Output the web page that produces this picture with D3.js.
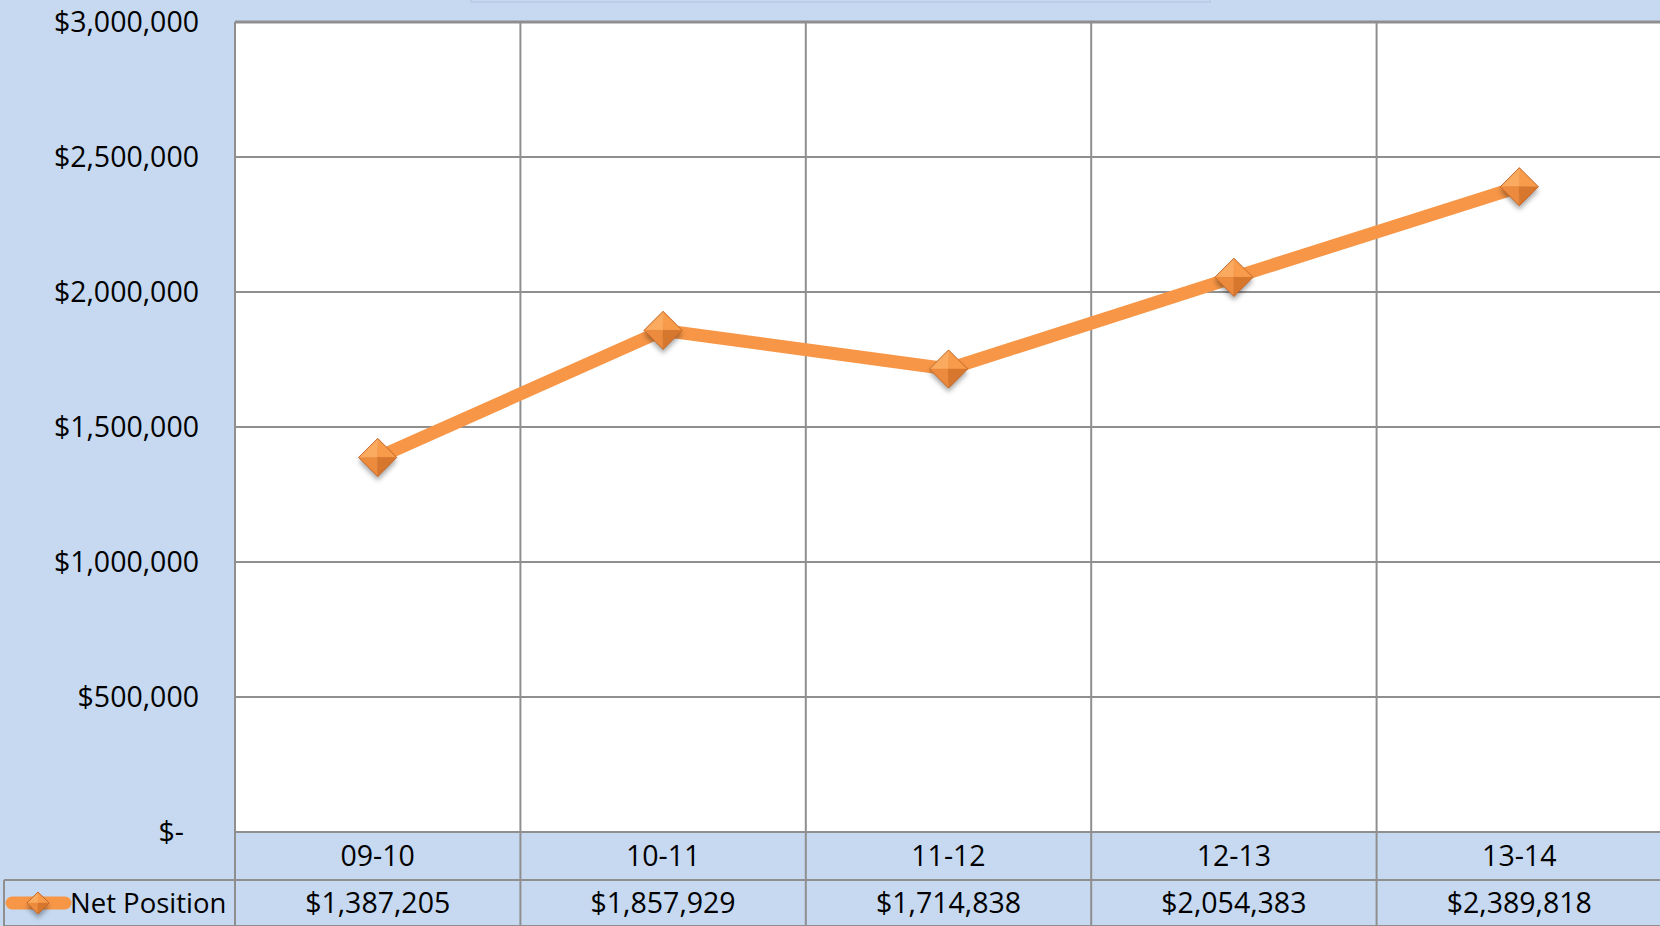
<!DOCTYPE html>
<html lang="en">
<head>
    <meta charset="UTF-8">
    <script src="https://d3js.org/d3.v7.min.js"></script>
    <style>
        body { margin: 0; background: #c6d9f0; overflow: hidden; }
        text { font-family: "Open Sans", "Noto Sans", sans-serif; fill: #000; }
    </style>
</head>
<body>
<div id="chart"></div>
<script>
    var years = ["09-10", "10-11", "11-12", "12-13", "13-14"];
    var netPosition = [1387205, 1857929, 1714838, 2054383, 2389818];
    var yTicks = [0, 500000, 1000000, 1500000, 2000000, 2500000, 3000000];
    var seriesName = "Net Position";

    var width = 1660, height = 926;
    var plotLeft = 235, plotTop = 22, plotBottom = 832;
    var bandW = 285.4;
    var rowMid = 880, tableBottom = 926;
    var fontSize = "28.5px";

    var svg = d3.select("#chart").append("svg")
        .attr("width", width)
        .attr("height", height);

    var defs = svg.append("defs");
    var f = defs.append("filter").attr("id", "shadow")
        .attr("x", "-50%").attr("y", "-50%").attr("width", "200%").attr("height", "200%");
    f.append("feGaussianBlur").attr("stdDeviation", 2.5);

    svg.append("rect").attr("width", width).attr("height", height).attr("fill", "#c6d9f0");

    // faint title box remnant at the top
    svg.append("rect").attr("x", 471).attr("y", -2).attr("width", 739).attr("height", 4)
        .attr("fill", "none").attr("stroke", "#b7cbe6").attr("stroke-width", 1.5);

    var x = d3.scaleBand().domain(years).range([plotLeft, plotLeft + bandW * years.length]);
    var y = d3.scaleLinear().domain([0, 3000000]).range([plotBottom, plotTop]);

    // plot area
    svg.append("rect")
        .attr("x", plotLeft).attr("y", plotTop)
        .attr("width", x.range()[1] - plotLeft).attr("height", plotBottom - plotTop)
        .attr("fill", "#fff");

    var grid = svg.append("g").attr("stroke", "#8f8f8f").attr("stroke-width", 2);
    grid.selectAll("line.h").data(yTicks).enter().append("line")
        .attr("x1", plotLeft).attr("x2", x.range()[1])
        .attr("y1", function (d) { return y(d); })
        .attr("y2", function (d) { return y(d); });

    // vertical lines through plot, category row and table row
    var edges = years.map(function (d) { return x(d); }).concat([x.range()[1]]);
    grid.selectAll("line.v").data(edges).enter().append("line")
        .attr("x1", function (d) { return d; }).attr("x2", function (d) { return d; })
        .attr("y1", plotTop).attr("y2", tableBottom);

    grid.append("line").attr("x1", 4).attr("x2", width).attr("y1", rowMid).attr("y2", rowMid);
    grid.append("line").attr("x1", 4).attr("x2", 4).attr("y1", rowMid).attr("y2", tableBottom);
    grid.append("line").attr("x1", 4).attr("x2", width).attr("y1", tableBottom).attr("y2", tableBottom);
    grid.append("line").attr("x1", plotLeft).attr("x2", width).attr("y1", plotTop).attr("y2", plotTop)
        .attr("stroke-width", 3);

    // y axis labels
    var fmt = function (d) { return d === 0 ? "$-" : "$" + d3.format(",")(d); };
    svg.append("g").selectAll("text").data(yTicks).enter().append("text")
        .attr("x", function (d) { return d === 0 ? 184 : 199; })
        .attr("y", function (d) { return y(d); })
        .attr("dy", "0.36em")
        .attr("text-anchor", "end")
        .style("font-size", fontSize)
        .text(fmt);

    // category row
    svg.append("g").selectAll("text").data(years).enter().append("text")
        .attr("x", function (d) { return x(d) + x.bandwidth() / 2; })
        .attr("y", 856)
        .attr("dy", "0.36em")
        .attr("text-anchor", "middle")
        .style("font-size", fontSize)
        .text(function (d) { return d; });

    // data table row
    svg.append("g").selectAll("text").data(netPosition).enter().append("text")
        .attr("x", function (d, i) { return x(years[i]) + x.bandwidth() / 2; })
        .attr("y", 903)
        .attr("dy", "0.36em")
        .attr("text-anchor", "middle")
        .style("font-size", fontSize)
        .text(function (d) { return "$" + d3.format(",")(d); });

    // diamond marker with bevel shading
    function diamond(g, cx, cy, r) {
        g.append("path")
            .attr("d", "M" + cx + "," + (cy - r + 4) + "L" + (cx + r) + "," + (cy + 4) + "L" + cx + "," + (cy + r + 4) + "L" + (cx - r) + "," + (cy + 4) + "Z")
            .attr("fill", "rgba(0,0,0,0.35)").attr("filter", "url(#shadow)");
        var faces = [
            [[cx, cy - r], [cx - r, cy], [cx, cy], "#fbab60"],
            [[cx, cy - r], [cx + r, cy], [cx, cy], "#f89c4c"],
            [[cx - r, cy], [cx, cy + r], [cx, cy], "#ec8a3e"],
            [[cx + r, cy], [cx, cy + r], [cx, cy], "#d7772e"]
        ];
        faces.forEach(function (p) {
            g.append("path")
                .attr("d", "M" + p[0] + "L" + p[1] + "L" + p[2] + "Z")
                .attr("fill", p[3]).attr("stroke", p[3]).attr("stroke-width", 0.5);
        });
        g.append("path")
            .attr("d", "M" + cx + "," + (cy - r) + "L" + (cx + r) + "," + cy + "L" + cx + "," + (cy + r) + "L" + (cx - r) + "," + cy + "Z")
            .attr("fill", "none").attr("stroke", "#c8692a").attr("stroke-width", 1);
    }

    var line = d3.line()
        .x(function (d, i) { return x(years[i]) + x.bandwidth() / 2; })
        .y(function (d) { return y(d); });

    svg.append("path").datum(netPosition)
        .attr("d", line)
        .attr("fill", "none")
        .attr("stroke", "#f79646")
        .attr("stroke-width", 13)
        .attr("stroke-linejoin", "round");

    var marks = svg.append("g");
    netPosition.forEach(function (d, i) {
        diamond(marks, x(years[i]) + x.bandwidth() / 2, y(d), 19);
    });

    // legend key in table
    svg.append("line").attr("x1", 12).attr("x2", 65).attr("y1", 903).attr("y2", 903)
        .attr("stroke", "#f79646").attr("stroke-width", 13).attr("stroke-linecap", "round");
    diamond(svg.append("g"), 38, 903, 11);
    svg.append("text").attr("x", 70).attr("y", 903).attr("dy", "0.36em")
        .style("font-size", "27.5px").text(seriesName);
</script>
</body>
</html>
